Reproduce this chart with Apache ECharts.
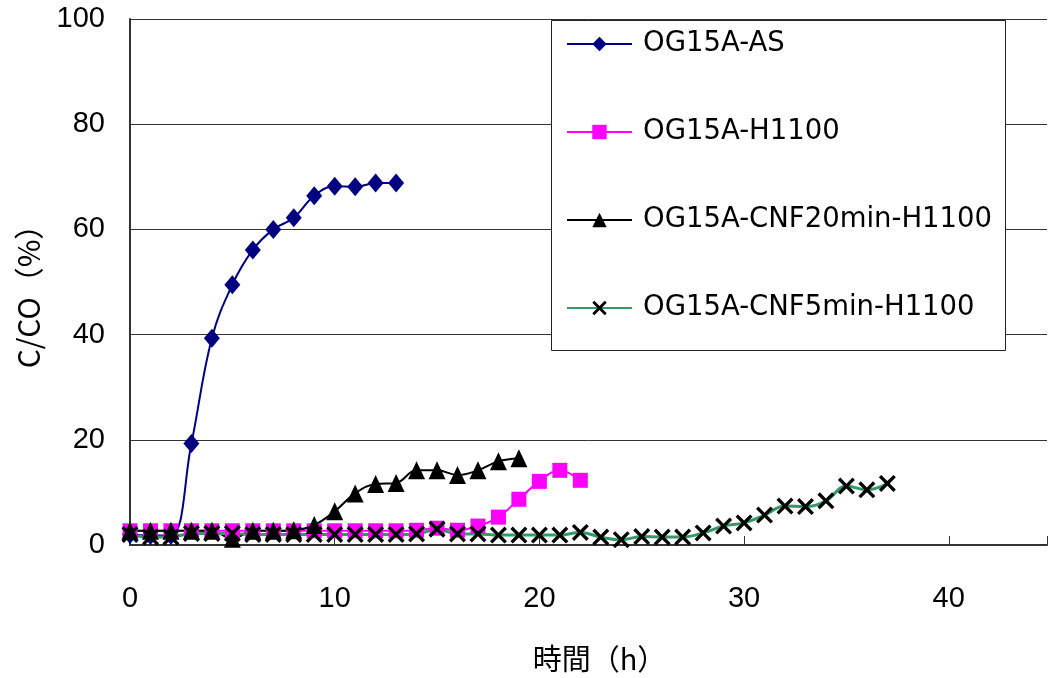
<!DOCTYPE html>
<html>
<head>
<meta charset="utf-8">
<script src="https://cdn.jsdelivr.net/npm/echarts@6/dist/echarts.min.js"></script>
<style>
html,body{margin:0;padding:0;background:#fff;}
#chart{width:1050px;height:678px;}
</style>
</head>
<body>
<div id="chart"></div>
<script>
// Series names
const seriesNames = ['OG15A-AS', 'OG15A-H1100', 'OG15A-CNF20min-H1100', 'OG15A-CNF5min-H1100'];
// Values (C/CO %) at hourly times starting at 0 h
const valuesAS = [2.0, 1.8, 1.8, 19.3, 39.3, 49.5, 56.1, 60.0, 62.2, 66.4, 68.2, 68.1, 68.8, 68.8];
const valuesH1100 = [2.7, 2.7, 2.7, 2.7, 2.7, 2.7, 2.7, 2.7, 2.7, 2.7, 2.7, 2.7, 2.7, 2.7, 2.8, 3.2, 2.8, 3.6, 5.3, 8.7, 12.1, 14.2, 12.3];
const valuesCNF20 = [2.7, 2.7, 2.7, 2.7, 2.7, 1.2, 2.7, 2.7, 2.8, 3.8, 6.4, 9.8, 11.6, 11.8, 14.2, 14.2, 13.3, 14.2, 15.9, 16.5];
const valuesCNF5 = [2.0, 1.5, 1.5, 2.2, 2.2, 2.2, 2.0, 2.0, 2.0, 2.0, 2.0, 2.0, 2.0, 2.0, 2.1, 3.0, 2.1, 2.1, 1.9, 1.9, 1.9, 1.9, 2.4, 1.5, 1.0, 1.6, 1.5, 1.5, 2.3, 3.6, 4.2, 5.7, 7.4, 7.3, 8.4, 11.2, 10.5, 11.7];
// Axis ticks
const xTicks = [0, 10, 20, 30, 40];
const yTicks = [0, 20, 40, 60, 80, 100];

const toPairs = arr => arr.map((v, i) => [i, v]);
const xPath = 'path://M0,1.4 L1.4,0 L5,3.6 L8.6,0 L10,1.4 L6.4,5 L10,8.6 L8.6,10 L5,6.4 L1.4,10 L0,8.6 L3.6,5 Z';

const chart = echarts.init(document.getElementById('chart'));
chart.setOption({
  backgroundColor: '#fff',
  animation: false,
  graphic: [{
    type: 'rect', left: 551, top: 20, z: 3,
    shape: { width: 454, height: 330 },
    style: { fill: '#fff', stroke: '#222', lineWidth: 1 }
  }],
  legend: {
    orient: 'vertical', left: 566, top: 29, padding: 0,
    itemWidth: 65, itemHeight: 18, itemGap: 58, z: 5,
    data: seriesNames,
    textStyle: { fontFamily: 'DejaVu Sans', fontSize: 27.5, color: '#000', lineHeight: 30, padding: [0, 0, 0, 6] }
  },
  grid: { left: 130, right: 0, top: 19, bottom: 130, containLabel: false },
  xAxis: {
    type: 'value', min: 0, max: 44.8, interval: 10,
    name: '時間（h）', nameLocation: 'middle', nameGap: 99,
    nameTextStyle: { fontFamily: 'Noto Sans CJK JP', fontSize: 29, color: '#000', padding: [0, 0, 0, 22] },
    axisLine: { show: true, onZero: false, lineStyle: { color: '#333', width: 2 } },
    axisTick: { show: true, inside: true, length: 9, lineStyle: { color: '#333', width: 1 } },
    axisLabel: {
      margin: 40, fontFamily: 'Liberation Sans', fontSize: 29, color: '#000',
      formatter: v => (xTicks.indexOf(v) >= 0 ? String(v) : '')
    },
    splitLine: { show: false }
  },
  yAxis: {
    type: 'value', min: 0, max: 100, interval: 20,
    name: 'C/CO（%）', nameLocation: 'middle', nameGap: 86,
    nameTextStyle: { fontFamily: 'Noto Sans CJK JP', fontSize: 30, color: '#000', padding: [0, 14, 0, 0] },
    axisLine: { show: true, lineStyle: { color: '#333', width: 2 } },
    axisTick: { show: false },
    axisLabel: {
      margin: 25, fontFamily: 'Liberation Sans', fontSize: 29, color: '#000',
      formatter: v => (yTicks.indexOf(v) >= 0 ? String(v) : '')
    },
    splitLine: { show: true, lineStyle: { color: '#333', width: 1 } }
  },
  series: [
    {
      name: seriesNames[0], type: 'line', smooth: 0.4, data: toPairs(valuesAS),
      symbol: 'diamond', symbolSize: [16, 19], showAllSymbol: true,
      itemStyle: { color: '#000080' }, lineStyle: { color: '#000080', width: 2 }
    },
    {
      name: seriesNames[1], type: 'line', smooth: 0.4, data: toPairs(valuesH1100),
      symbol: 'rect', symbolSize: 15, showAllSymbol: true,
      itemStyle: { color: '#ff00ff' }, lineStyle: { color: '#ff00ff', width: 2 }
    },
    {
      name: seriesNames[2], type: 'line', smooth: 0.4, data: toPairs(valuesCNF20),
      symbol: 'triangle', symbolSize: [17, 18], showAllSymbol: true,
      itemStyle: { color: '#000' }, lineStyle: { color: '#000', width: 2 }
    },
    {
      name: seriesNames[3], type: 'line', smooth: 0.4, data: toPairs(valuesCNF5),
      symbol: xPath, symbolSize: 17, showAllSymbol: true,
      itemStyle: { color: '#000' }, lineStyle: { color: '#339966', width: 3 }
    }
  ]
});
</script>
</body>
</html>
